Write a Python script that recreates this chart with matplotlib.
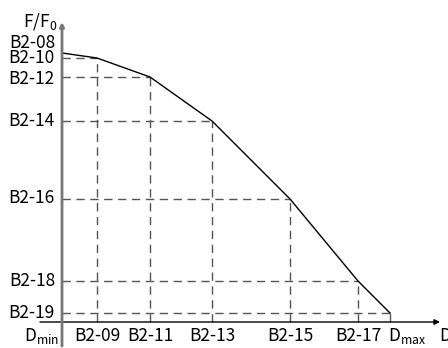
import matplotlib
matplotlib.use("Agg")
import matplotlib.pyplot as plt

plt.rcParams['font.family'] = ['Noto Sans CJK SC', 'DejaVu Sans']
plt.rcParams['mathtext.fontset'] = 'custom'
plt.rcParams['mathtext.rm'] = 'Noto Sans CJK SC'
plt.rcParams['mathtext.it'] = 'Noto Sans CJK SC'

# curve break points (x: diameter, y: force ratio), arbitrary chart units
d_vals = [0, 35, 88, 150, 228, 296, 328]
f_vals = [269, 264, 245, 201, 123, 41, 9]

# tick labels
x_labels = ['B2-09', 'B2-11', 'B2-13', 'B2-15', 'B2-17']
x_label_pos = [35, 88, 150, 228, 296]
y_labels = ['B2-08', 'B2-10', 'B2-12', 'B2-14', 'B2-16', 'B2-18', 'B2-19']
y_label_pos = [279, 264, 243, 201, 124, 41, 9]

fig = plt.figure(figsize=(4.48, 3.48), dpi=100)
ax = fig.add_axes([0, 0, 1, 1])
ax.set_xlim(-62, 386)
ax.set_ylim(-26, 322)
ax.axis('off')

dash_col = '#555555'
for d, f in zip(d_vals[1:], f_vals[1:]):
    ax.plot([0, d], [f, f], color=dash_col, lw=1, ls=(0, (6, 4)))
    ax.plot([d, d], [0, f], color=dash_col, lw=1, ls=(0, (6, 4)))

ax.plot(d_vals, f_vals, color='black', lw=1)

# axes with arrows
ax.annotate('', xy=(378, 0), xytext=(-22, 0),
            arrowprops=dict(arrowstyle='-|>', color='black', lw=1,
                            mutation_scale=8, shrinkA=0, shrinkB=0))
ax.annotate('', xy=(0, 300), xytext=(0, -24),
            arrowprops=dict(arrowstyle='-|>', color='#777777', lw=2,
                            mutation_scale=6, shrinkA=0, shrinkB=0))

fs = 12.5
for lab, y in zip(y_labels, y_label_pos):
    ax.text(-7, y, lab, ha='right', va='center', fontsize=fs)
for lab, x in zip(x_labels, x_label_pos):
    ax.text(x, -14, lab, ha='center', va='center', fontsize=fs)

ax.text(-3, -14, r'D$_{\mathrm{min}}$', ha='right', va='center', fontsize=fs)
ax.text(326, -14, r'D$_{\mathrm{max}}$', ha='left', va='center', fontsize=fs)
ax.text(377, -14, 'D', ha='left', va='center', fontsize=fs)
ax.text(-5, 300, r'F/F$_{0}$', ha='right', va='center', fontsize=fs)

fig.savefig('out.png', dpi=100)
